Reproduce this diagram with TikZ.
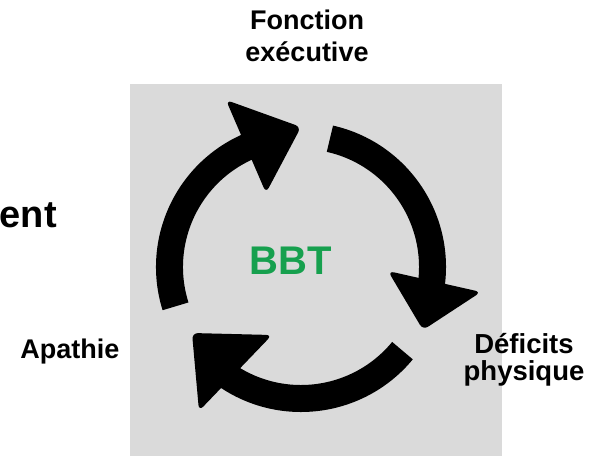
\documentclass[tikz,border=0pt]{standalone}
\usepackage{fontspec}
\setmainfont{Liberation Sans}
\usetikzlibrary{calc}
\definecolor{bggray}{RGB}{218,218,218}
\definecolor{bbtgreen}{RGB}{22,160,78}
\begin{document}
\begin{tikzpicture}[x=1pt,y=1pt,
  ring/.style={line width=27pt,black},
  head/.style={fill=black,rounded corners=6pt},
  lbl/.style={font=\fontsize{27}{32}\selectfont\bfseries,align=center,inner sep=0pt}]
\useasboundingbox (0,0) rectangle (595,-456);
\fill[bggray] (130,-84) rectangle (502,-456);
\coordinate (c) at (301,-267);
% arc 1 (left, up to top)
\draw[ring] ($(c)+(197.4:131.5)$) arc[start angle=197.4, end angle=112, radius=131.5];
\fill[head] (226,-100) -- (301,-127) -- (266,-193) -- cycle;
% arc 2 (top, down to right)
\draw[ring] ($(c)+(77.3:131.5)$) arc[start angle=77.3, end angle=-8, radius=131.5];
\fill[head] (388,-271) -- (481,-292) -- (423,-330) -- cycle;
% arc 3 (bottom right, round to bottom left)
\draw[ring] ($(c)+(-39.5:131.5)$) arc[start angle=-39.5, end angle=-125, radius=131.5];
\fill[head] (192,-333) -- (272,-335) -- (199,-411) -- cycle;
\node[font=\fontsize{40}{40}\selectfont\bfseries,text=bbtgreen,inner sep=0pt] (bbt) at (291,-260.5) {BBT};
\node[lbl] (fe) at (307,-36) {Fonction\\exécutive};
\node[lbl,font=\fontsize{27.5}{26.5}\selectfont\bfseries] (dp) at (524,-360) {Déficits\\physique};
\node[lbl] (ap) at (70,-352) {Apathie};
\node[font=\fontsize{38}{38}\selectfont\bfseries,inner sep=0pt,anchor=base east] (ent) at (57,-227) {ent};
\end{tikzpicture}
\end{document}
